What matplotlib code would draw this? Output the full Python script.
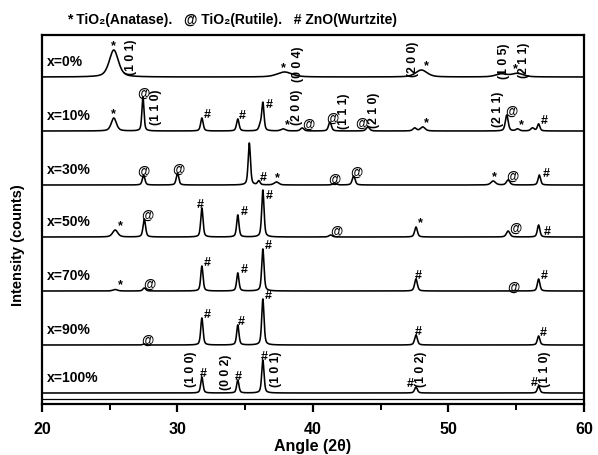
import numpy as np
import matplotlib
matplotlib.use("Agg")
import matplotlib.pyplot as plt
from matplotlib.ticker import MultipleLocator

plt.rcParams['font.family'] = ['Liberation Sans', 'DejaVu Sans']
plt.rcParams['font.weight'] = 'bold'

# ---- data -------------------------------------------------------------
samples = ["x=0%", "x=10%", "x=30%", "x=50%", "x=70%", "x=90%", "x=100%"]
offsets = [327, 273, 219, 167, 113, 59, 11]

# reflections of each pattern: (2theta, height, FWHM)
peaks_0 = [(25.3, 27, 0.8), (37.9, 5, 1.3), (48.0, 7, 1.0), (53.9, 3, 1.0), (55.1, 3.5, 1.0)]
peaks_10 = [(25.3, 13, 0.45), (27.45, 34, 0.18), (31.8, 13, 0.22), (34.45, 12, 0.22),
            (36.1, 5, 0.22), (36.3, 28, 0.2), (37.8, 2, 0.4), (39.2, 3, 0.3),
            (41.25, 9, 0.25), (44.05, 4, 0.3), (47.5, 3, 0.3), (48.1, 4, 0.4),
            (54.3, 16, 0.25), (55.1, 2, 0.3), (56.2, 3, 0.3), (56.65, 7, 0.22)]
peaks_30 = [(27.5, 10, 0.22), (30.0, 12, 0.22), (35.3, 42, 0.2), (36.0, 4, 0.22),
            (37.3, 3, 0.4), (41.6, 2, 0.3), (43.0, 9, 0.25), (53.3, 4, 0.4),
            (54.4, 5, 0.3), (56.7, 10, 0.22)]
peaks_50 = [(25.4, 7, 0.45), (27.55, 18, 0.22), (31.8, 29, 0.2), (34.45, 22, 0.2),
            (36.3, 47, 0.2), (41.3, 2, 0.3), (47.6, 10, 0.24), (54.4, 6, 0.3),
            (56.65, 12, 0.22)]
peaks_70 = [(25.4, 1.5, 0.4), (27.55, 3, 0.25), (31.8, 25, 0.2), (34.45, 18, 0.2),
            (36.3, 42, 0.2), (47.6, 12, 0.24), (56.65, 12, 0.22)]
peaks_90 = [(27.55, 1, 0.25), (31.8, 27, 0.2), (34.45, 20, 0.2), (36.3, 46, 0.2),
            (47.6, 10, 0.24), (56.65, 9, 0.22)]
peaks_100 = [(31.8, 16, 0.2), (34.45, 13, 0.2), (36.3, 33, 0.2), (47.6, 6, 0.24),
             (56.65, 7, 0.22)]
patterns = [peaks_0, peaks_10, peaks_30, peaks_50, peaks_70, peaks_90, peaks_100]

# phase symbols: (pattern index, 2theta, symbol)
phase_marks = [
    (0, 25.3, "*"), (0, 37.8, "*"), (0, 48.4, "*"), (0, 54.9, "*"),
    (1, 25.3, "*"), (1, 27.45, "@"), (1, 32.2, "#"), (1, 34.8, "#"), (1, 36.8, "#"),
    (1, 38.1, "*"), (1, 39.65, "@"), (1, 41.4, "@"), (1, 43.6, "@"), (1, 48.4, "*"),
    (1, 54.65, "@"), (1, 55.4, "*"), (1, 57.1, "#"),
    (2, 27.5, "@"), (2, 30.1, "@"), (2, 36.3, "#"), (2, 37.4, "*"), (2, 41.6, "@"),
    (2, 43.2, "@"), (2, 53.4, "*"), (2, 54.7, "@"), (2, 57.2, "#"),
    (3, 25.8, "*"), (3, 27.8, "@"), (3, 31.7, "#"), (3, 34.9, "#"), (3, 36.8, "#"),
    (3, 41.7, "@"), (3, 47.9, "*"), (3, 54.9, "@"), (3, 57.3, "#"),
    (4, 25.8, "*"), (4, 27.9, "@"), (4, 32.2, "#"), (4, 34.9, "#"), (4, 36.7, "#"),
    (4, 47.8, "#"), (4, 54.8, "@"), (4, 57.1, "#"),
    (5, 27.8, "@"), (5, 32.2, "#"), (5, 34.7, "#"), (5, 36.7, "#"), (5, 47.8, "#"),
    (5, 57.0, "#"),
    (6, 31.9, "#"), (6, 34.5, "#"), (6, 36.4, "#"), (6, 47.2, "#"), (6, 56.3, "#"),
]

# Miller indices: (pattern index, 2theta, label)
hkl_labels = [
    (0, 26.6, "(1 0 1)"), (0, 38.9, "(0 0 4)"), (0, 47.4, "(2 0 0)"),
    (0, 54.1, "(1 0 5)"), (0, 55.6, "(2 1 1)"),
    (1, 28.4, "(1 1 0)"), (1, 38.8, "(2 0 0)"), (1, 42.3, "(1 1 1)"),
    (1, 44.5, "(2 1 0)"), (1, 53.65, "(2 1 1)"),
    (6, 31.0, "(1 0 0)"), (6, 33.6, "(0 0 2)"), (6, 37.3, "(1 0 1)"),
    (6, 48.0, "(1 0 2)"), (6, 57.1, "(1 1 0)"),
]
hkl_rise = [21, 14, 19, 17, 18, 25, 25, 21, 22, 23, 25, 22, 25, 25, 25]

x_ticks = [20, 30, 40, 50, 60]
legend_text = "* TiO\u2082(Anatase).   @ TiO\u2082(Rutile).   # ZnO(Wurtzite)"


def profile(tt, peaks, eta=0.5):
    y = np.zeros_like(tt)
    for c, h, w in peaks:
        d = (tt - c) / (w / 2.0)
        lor = 1.0 / (1.0 + d ** 2)
        gau = np.exp(-np.log(2) * d ** 2)
        y += h * (eta * lor + (1 - eta) * gau)
    return y


# ---- figure -----------------------------------------------------------
fig = plt.figure(figsize=(5.98, 4.56), dpi=100)
ax = fig.add_axes([42 / 598, 1 - 405 / 456, (584 - 42) / 598, (405 - 36) / 456])

tt = np.linspace(20, 60, 6001)
curves = []
for peaks, off, name in zip(patterns, offsets, samples):
    y = off + profile(tt, peaks)
    curves.append(y)
    ax.plot(tt, y, color="black", lw=1.15)
    ax.text(20.35, off + 16, name, fontsize=10, fontweight="bold", va="center", ha="left")

for idx, pos, sym in phase_marks:
    win = (tt > pos - 0.45) & (tt < pos + 0.45)
    top = curves[idx][win].max()
    gap = {"*": 5, "@": 4, "#": 4}[sym]
    ax.text(pos, top + gap, sym, fontsize=9, fontweight="bold",
            ha="center", va="center")

for (idx, pos, lab), rise in zip(hkl_labels, hkl_rise):
    ax.text(pos, offsets[idx] + rise, lab, rotation=90, fontsize=8.8,
            fontweight="bold", ha="center", va="center")

ax.axhline(5, color="black", lw=0.9)

ax.set_xlim(20, 60)
ax.set_ylim(0, 369)
ax.set_xticks(x_ticks)
ax.xaxis.set_minor_locator(MultipleLocator(5))
ax.set_yticks([])
ax.tick_params(axis="x", which="major", direction="out", length=6, width=1.6,
               labelsize=11.5, pad=6)
ax.tick_params(axis="x", which="minor", direction="out", length=4, width=1.4)
for lbl in ax.get_xticklabels():
    lbl.set_fontweight("bold")
for sp in ax.spines.values():
    sp.set_linewidth(1.6)

ax.set_xlabel("Angle (2\u03b8)", fontsize=11.5, fontweight="bold", labelpad=2)
fig.text(0.03, 1 - 245 / 456, "Intensity (counts)", rotation=90, fontsize=10.5,
         fontweight="bold", ha="center", va="center")
fig.text(0.388, 1 - 20 / 456, legend_text, fontsize=10, fontweight="bold",
         ha="center", va="center")

fig.savefig("out.png", dpi=100)
